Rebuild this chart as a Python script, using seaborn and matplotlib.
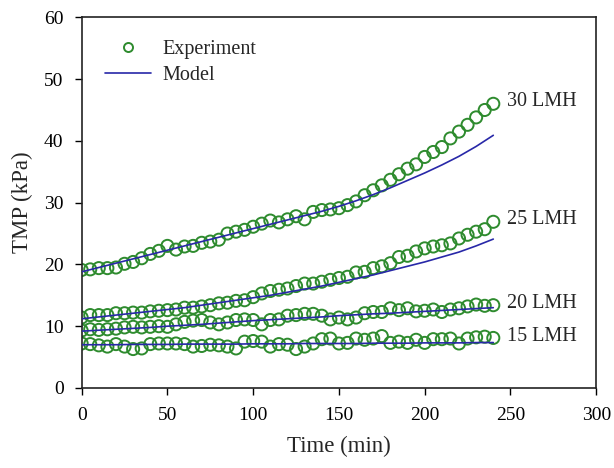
import numpy as np
import pandas as pd
import matplotlib
matplotlib.use("Agg")
import matplotlib.pyplot as plt
from matplotlib.lines import Line2D
import seaborn as sns

# Measured TMP, sampled every 5 min from 0 to 240 min
t_exp = list(range(0, 245, 5))

exp_30 = [19.1, 19.2, 19.4, 19.4, 19.5, 20.1, 20.4, 21.0, 21.7, 22.2,
          23.0, 22.4, 22.9, 23.0, 23.5, 23.7, 24.0, 25.0, 25.3, 25.6,
          26.1, 26.6, 27.1, 26.8, 27.3, 27.8, 27.3, 28.5, 28.8, 28.9,
          29.1, 29.6, 30.2, 31.2, 32.0, 32.8, 33.7, 34.6, 35.5, 36.2,
          37.4, 38.2, 39.0, 40.4, 41.5, 42.6, 43.8, 45.0, 46.0]
exp_25 = [11.4, 11.8, 11.8, 11.8, 12.1, 12.1, 12.2, 12.2, 12.4, 12.5,
          12.6, 12.7, 13.0, 13.0, 13.2, 13.4, 13.7, 13.8, 14.1, 14.2,
          14.7, 15.3, 15.7, 15.9, 16.1, 16.5, 16.9, 16.9, 17.2, 17.5,
          17.8, 18.0, 18.7, 18.8, 19.4, 19.7, 20.2, 21.2, 21.4, 22.1,
          22.6, 22.9, 23.1, 23.4, 24.2, 24.8, 25.3, 25.7, 26.9]
exp_20 = [9.3, 9.5, 9.4, 9.5, 9.6, 9.8, 9.9, 9.8, 9.9, 10.0,
          9.9, 10.3, 10.7, 10.9, 11.0, 10.6, 10.3, 10.6, 11.0, 11.1,
          11.0, 10.3, 11.0, 11.1, 11.7, 11.8, 12.0, 12.0, 11.7, 11.1,
          11.4, 11.1, 11.4, 12.1, 12.3, 12.3, 12.9, 12.6, 12.9, 12.4,
          12.5, 12.7, 12.3, 12.7, 12.9, 13.2, 13.5, 13.3, 13.4]
exp_15 = [7.2, 7.1, 6.9, 6.7, 7.1, 6.7, 6.3, 6.4, 7.1, 7.2,
          7.2, 7.2, 7.1, 6.7, 6.8, 7.0, 6.9, 6.7, 6.4, 7.5,
          7.6, 7.5, 6.7, 7.1, 7.0, 6.3, 6.7, 7.2, 7.9, 8.0,
          7.2, 7.3, 8.0, 7.8, 8.0, 8.4, 7.3, 7.5, 7.3, 7.8,
          7.3, 7.9, 7.9, 8.0, 7.2, 8.0, 8.2, 8.3, 8.1]

# Model predictions, every 10 min
t_mod = list(range(0, 250, 10))
mod_30 = [18.8, 19.5, 20.2, 20.9, 21.6, 22.3, 23.0, 23.7, 24.4, 25.1,
          25.8, 26.5, 27.2, 27.9, 28.6, 29.4, 30.3, 31.3, 32.4, 33.6,
          34.8, 36.1, 37.5, 39.1, 40.9]
mod_25 = [11.2, 11.5, 11.8, 12.1, 12.4, 12.7, 13.0, 13.4, 13.8, 14.2,
          14.6, 15.0, 15.5, 16.0, 16.5, 17.1, 17.7, 18.3, 19.0, 19.7,
          20.4, 21.2, 22.0, 23.0, 24.1]
mod_20 = [9.2, 9.35, 9.5, 9.65, 9.8, 10.0, 10.15, 10.3, 10.5, 10.7,
          10.9, 11.05, 11.2, 11.35, 11.5, 11.7, 11.85, 12.0, 12.1, 12.25,
          12.4, 12.55, 12.7, 12.85, 13.0]
mod_15 = [7.0, 7.0, 7.0, 7.05, 7.05, 7.05, 7.1, 7.1, 7.1, 7.1,
          7.15, 7.15, 7.15, 7.2, 7.2, 7.2, 7.2, 7.25, 7.25, 7.25,
          7.3, 7.3, 7.3, 7.35, 7.35]

fluxes = ["30 LMH", "25 LMH", "20 LMH", "15 LMH"]
exp_series = [exp_30, exp_25, exp_20, exp_15]
mod_series = [mod_30, mod_25, mod_20, mod_15]

exp_df = pd.concat([pd.DataFrame({"Time": t_exp, "TMP": v, "Flux": f})
                    for f, v in zip(fluxes, exp_series)], ignore_index=True)
mod_df = pd.concat([pd.DataFrame({"Time": t_mod, "TMP": v, "Flux": f})
                    for f, v in zip(fluxes, mod_series)], ignore_index=True)

sns.set_style("ticks")
plt.rcParams["font.family"] = ["Liberation Serif", "DejaVu Serif"]

green = "#2e8b2e"
blue = "#2828a8"

fig = plt.figure(figsize=(6.14, 4.68), dpi=100)
ax = fig.add_axes([0.133, 0.171, 0.838, 0.792])

sns.scatterplot(data=exp_df, x="Time", y="TMP",
                marker="o", s=76, facecolor="none", edgecolor=green,
                linewidth=1.4, ax=ax, legend=False, zorder=2)
sns.lineplot(data=mod_df, x="Time", y="TMP", units="Flux", estimator=None,
             color=blue, linewidth=1.2, ax=ax, legend=False, zorder=3)

# Flux labels next to the last point of each curve
for f, v in zip(fluxes, exp_series):
    ax.text(248, v[-1] + 0.3, f, fontsize=14.5, va="center", ha="left")

ax.set_xlim(0, 300)
ax.set_ylim(0, 60)
ax.set_xticks(range(0, 301, 50))
ax.set_yticks(range(0, 61, 10))
ax.tick_params(axis="both", labelsize=14, direction="out", length=5,
               width=1, colors="black", pad=8)
ax.tick_params(axis="x", pad=9)
for s in ax.spines.values():
    s.set_visible(True)
    s.set_color("#222222")
    s.set_linewidth(1.2)

ax.set_xlabel("Time (min)", fontsize=16.5, labelpad=8)
ax.set_ylabel("TMP (kPa)", fontsize=16.5, labelpad=8)

handles = [
    Line2D([], [], marker="o", linestyle="none", markerfacecolor="none",
           markeredgecolor=green, markeredgewidth=1.4, markersize=6.5),
    Line2D([], [], color=blue, linewidth=1.2),
]
ax.legend(handles, ["Experiment", "Model"], loc="upper left", frameon=False,
          fontsize=14.5, bbox_to_anchor=(0.045, 0.94), borderaxespad=0,
          borderpad=0, handlelength=2.3, labelspacing=0.38,
          handletextpad=0.55)

fig.savefig("out.png", dpi=100)
